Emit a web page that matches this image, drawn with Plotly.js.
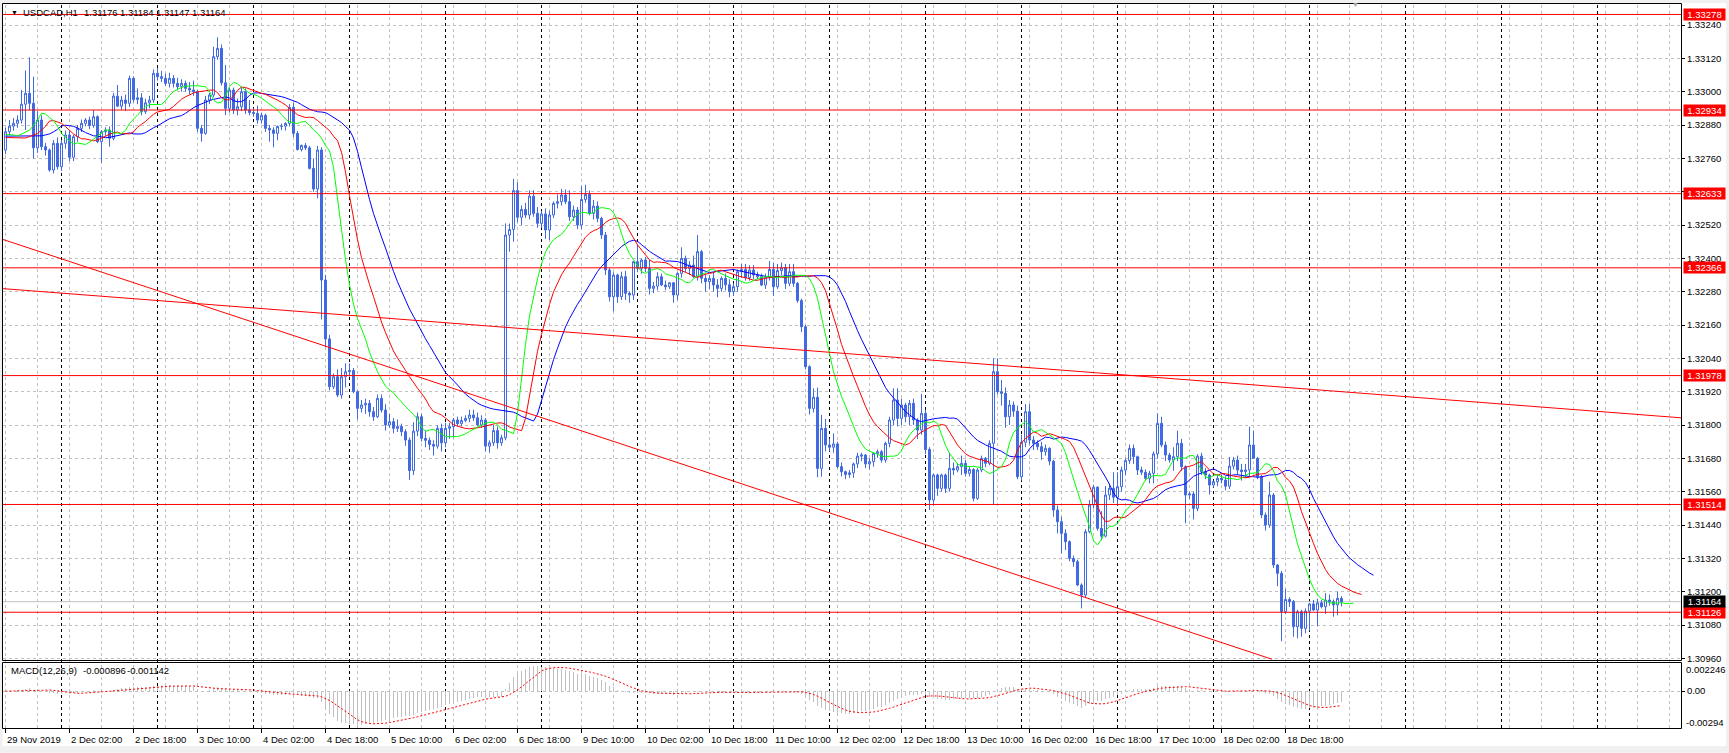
<!DOCTYPE html>
<html><head><meta charset="utf-8">
<script src="https://cdn.plot.ly/plotly-3.0.1.min.js"></script>
<style>html,body{margin:0;padding:0;background:#fff;overflow:hidden}#chart{width:1729px;height:753px}</style>
</head><body><div id="chart"></div>
<script>
// ---------- DATA ----------
const symbolName = "USDCAD,H1";
const closeP = [
1.32856,1.32876,1.32886,1.32898,1.32955,1.32994,1.32958,1.32798,1.32898,1.32802,
1.32790,1.32718,1.32814,1.32730,1.32814,1.32844,1.32764,1.32838,1.32868,1.32886,
1.32898,1.32878,1.32910,1.32820,1.32856,1.32862,1.32832,1.32984,1.32948,1.32970,
1.32958,1.33048,1.32972,1.32978,1.32928,1.32960,1.32970,1.33066,1.33054,1.33048,
1.33030,1.33048,1.33030,1.33018,1.33030,1.33012,1.33006,1.33000,1.32868,1.32850,
1.32970,1.32988,1.33126,1.33156,1.33032,1.32940,1.33006,1.32934,1.32946,1.33000,
1.32934,1.32925,1.32922,1.32898,1.32915,1.32868,1.32862,1.32850,1.32875,1.32876,
1.32886,1.32944,1.32850,1.32792,1.32806,1.32798,1.32724,1.32650,1.32790,1.32322,
1.32110,1.31938,1.31974,1.31908,1.31974,1.31992,1.31996,1.31920,1.31860,1.31872,
1.31878,1.31848,1.31830,1.31896,1.31854,1.31800,1.31812,1.31788,1.31795,1.31776,
1.31746,1.31636,1.31778,1.31830,1.31752,1.31745,1.31730,1.31724,1.31788,1.31736,
1.31788,1.31794,1.31818,1.31805,1.31816,1.31824,1.31836,1.31826,1.31800,1.31818,
1.31724,1.31736,1.31780,1.31736,1.31754,1.32484,1.32504,1.32644,1.32548,1.32576,
1.32556,1.32624,1.32562,1.32526,1.32560,1.32502,1.32556,1.32598,1.32604,1.32628,
1.32604,1.32550,1.32574,1.32520,1.32612,1.32630,1.32562,1.32588,1.32544,1.32484,
1.32358,1.32262,1.32340,1.32262,1.32334,1.32274,1.32268,1.32388,1.32364,1.32394,
1.32364,1.32292,1.32300,1.32334,1.32304,1.32298,1.32312,1.32268,1.32346,1.32400,
1.32364,1.32376,1.32334,1.32424,1.32328,1.32316,1.32328,1.32304,1.32292,1.32328,
1.32305,1.32280,1.32298,1.32352,1.32360,1.32330,1.32358,1.32340,1.32334,1.32304,
1.32332,1.32360,1.32298,1.32356,1.32366,1.32310,1.32352,1.32310,1.32248,1.32154,
1.32010,1.31860,1.31900,1.31644,1.31788,1.31728,1.31720,1.31732,1.31650,1.31632,
1.31622,1.31628,1.31660,1.31688,1.31692,1.31660,1.31668,1.31698,1.31704,1.31674,
1.31734,1.31818,1.31890,1.31824,1.31872,1.31830,1.31878,1.31818,1.31782,1.31842,
1.31712,1.31530,1.31620,1.31572,1.31620,1.31572,1.31644,1.31638,1.31650,1.31662,
1.31626,1.31640,1.31536,1.31638,1.31680,1.31662,1.31734,1.31992,1.31920,1.31914,
1.31830,1.31872,1.31850,1.31614,1.31738,1.31848,1.31746,1.31734,1.31722,1.31704,
1.31716,1.31670,1.31494,1.31452,1.31410,1.31380,1.31320,1.31308,1.31224,1.31188,
1.31416,1.31512,1.31576,1.31428,1.31400,1.31548,1.31572,1.31540,1.31578,1.31638,
1.31672,1.31716,1.31686,1.31638,1.31630,1.31608,1.31626,1.31696,1.31806,1.31728,
1.31692,1.31674,1.31686,1.31734,1.31650,1.31548,1.31552,1.31500,1.31688,1.31632,
1.31620,1.31584,1.31596,1.31608,1.31602,1.31580,1.31652,1.31674,1.31638,1.31632,
1.31638,1.31728,1.31680,1.31614,1.31476,1.31440,1.31548,1.31296,1.31266,1.31128,
1.31172,1.31164,1.31074,1.31128,1.31068,1.31130,1.31156,1.31134,1.31160,1.31146,
1.31170,1.31164,1.31152,1.31176,1.31164];
const openP = [
1.32790,1.32856,1.32876,1.32886,1.32898,1.32955,1.32994,1.32958,1.32798,1.32898,
1.32802,1.32790,1.32718,1.32814,1.32730,1.32814,1.32844,1.32764,1.32838,1.32868,
1.32886,1.32898,1.32878,1.32910,1.32820,1.32856,1.32862,1.32832,1.32984,1.32948,
1.32970,1.32958,1.33048,1.32972,1.32978,1.32928,1.32960,1.32970,1.33066,1.33054,
1.33048,1.33030,1.33048,1.33030,1.33018,1.33030,1.33012,1.33006,1.33000,1.32868,
1.32850,1.32970,1.32988,1.33126,1.33156,1.33032,1.32940,1.33006,1.32934,1.32946,
1.33000,1.32934,1.32925,1.32922,1.32898,1.32915,1.32868,1.32862,1.32850,1.32875,
1.32876,1.32886,1.32944,1.32850,1.32792,1.32806,1.32798,1.32724,1.32650,1.32790,
1.32322,1.32110,1.31938,1.31974,1.31908,1.31974,1.31992,1.31996,1.31920,1.31860,
1.31872,1.31878,1.31848,1.31830,1.31896,1.31854,1.31800,1.31812,1.31788,1.31795,
1.31776,1.31746,1.31636,1.31778,1.31830,1.31752,1.31745,1.31730,1.31724,1.31788,
1.31736,1.31788,1.31794,1.31818,1.31805,1.31816,1.31824,1.31836,1.31826,1.31800,
1.31818,1.31724,1.31736,1.31780,1.31736,1.31754,1.32484,1.32504,1.32644,1.32548,
1.32576,1.32556,1.32624,1.32562,1.32526,1.32560,1.32502,1.32556,1.32598,1.32604,
1.32628,1.32604,1.32550,1.32574,1.32520,1.32612,1.32630,1.32562,1.32588,1.32544,
1.32484,1.32358,1.32262,1.32340,1.32262,1.32334,1.32274,1.32268,1.32388,1.32364,
1.32394,1.32364,1.32292,1.32300,1.32334,1.32304,1.32298,1.32312,1.32268,1.32346,
1.32400,1.32364,1.32376,1.32334,1.32424,1.32328,1.32316,1.32328,1.32304,1.32292,
1.32328,1.32305,1.32280,1.32298,1.32352,1.32360,1.32330,1.32358,1.32340,1.32334,
1.32304,1.32332,1.32360,1.32298,1.32356,1.32366,1.32310,1.32352,1.32310,1.32248,
1.32154,1.32010,1.31860,1.31900,1.31644,1.31788,1.31728,1.31720,1.31732,1.31650,
1.31632,1.31622,1.31628,1.31660,1.31688,1.31692,1.31660,1.31668,1.31698,1.31704,
1.31674,1.31734,1.31818,1.31890,1.31824,1.31872,1.31830,1.31878,1.31818,1.31782,
1.31842,1.31712,1.31530,1.31620,1.31572,1.31620,1.31572,1.31644,1.31638,1.31650,
1.31662,1.31626,1.31640,1.31536,1.31638,1.31680,1.31662,1.31734,1.31992,1.31920,
1.31914,1.31830,1.31872,1.31850,1.31614,1.31738,1.31848,1.31746,1.31734,1.31722,
1.31704,1.31716,1.31670,1.31494,1.31452,1.31410,1.31380,1.31320,1.31308,1.31224,
1.31188,1.31416,1.31512,1.31576,1.31428,1.31400,1.31548,1.31572,1.31540,1.31578,
1.31638,1.31672,1.31716,1.31686,1.31638,1.31630,1.31608,1.31626,1.31696,1.31806,
1.31728,1.31692,1.31674,1.31686,1.31734,1.31650,1.31548,1.31552,1.31500,1.31688,
1.31632,1.31620,1.31584,1.31596,1.31608,1.31602,1.31580,1.31652,1.31674,1.31638,
1.31632,1.31638,1.31728,1.31680,1.31614,1.31476,1.31440,1.31548,1.31296,1.31266,
1.31128,1.31172,1.31164,1.31074,1.31128,1.31068,1.31130,1.31156,1.31134,1.31160,
1.31146,1.31170,1.31164,1.31152,1.31176];
const highP = [
1.32870,1.32898,1.32905,1.32915,1.33006,1.33076,1.33124,1.33054,1.32930,1.32915,
1.32815,1.32795,1.32826,1.32835,1.32826,1.32860,1.32860,1.32845,1.32880,1.32900,
1.32905,1.32910,1.32934,1.32915,1.32862,1.32872,1.32875,1.32995,1.33024,1.32985,
1.32990,1.33058,1.33055,1.33012,1.32995,1.32975,1.32985,1.33080,1.33085,1.33075,
1.33065,1.33068,1.33060,1.33050,1.33045,1.33040,1.33035,1.33040,1.33005,1.32880,
1.32985,1.32995,1.33162,1.33196,1.33170,1.33096,1.33015,1.33015,1.32975,1.33018,
1.33012,1.32970,1.32940,1.32950,1.32925,1.32920,1.32880,1.32872,1.32878,1.32885,
1.32890,1.32955,1.32960,1.32858,1.32810,1.32815,1.32805,1.32760,1.32805,1.32800,
1.32340,1.32125,1.31985,1.32000,1.32005,1.32022,1.32022,1.32005,1.31925,1.31890,
1.31895,1.31890,1.31865,1.31910,1.31910,1.31875,1.31840,1.31825,1.31820,1.31805,
1.31785,1.31755,1.31810,1.31845,1.31840,1.31780,1.31755,1.31745,1.31800,1.31805,
1.31808,1.31808,1.31825,1.31830,1.31830,1.31835,1.31855,1.31855,1.31845,1.31835,
1.31825,1.31745,1.31800,1.31795,1.31765,1.32526,1.32525,1.32686,1.32674,1.32590,
1.32600,1.32645,1.32645,1.32585,1.32570,1.32580,1.32570,1.32605,1.32630,1.32650,
1.32648,1.32645,1.32590,1.32585,1.32660,1.32665,1.32645,1.32610,1.32605,1.32550,
1.32495,1.32365,1.32350,1.32345,1.32352,1.32355,1.32280,1.32390,1.32450,1.32400,
1.32405,1.32395,1.32315,1.32350,1.32345,1.32320,1.32315,1.32315,1.32350,1.32440,
1.32410,1.32390,1.32410,1.32484,1.32430,1.32345,1.32340,1.32350,1.32325,1.32335,
1.32345,1.32325,1.32310,1.32360,1.32380,1.32380,1.32375,1.32375,1.32352,1.32345,
1.32345,1.32390,1.32385,1.32380,1.32385,1.32380,1.32380,1.32380,1.32315,1.32255,
1.32160,1.32015,1.31932,1.31935,1.31836,1.31822,1.31750,1.31770,1.31740,1.31665,
1.31636,1.31638,1.31665,1.31700,1.31700,1.31695,1.31680,1.31700,1.31712,1.31710,
1.31740,1.31830,1.31932,1.31932,1.31895,1.31880,1.31890,1.31895,1.31825,1.31912,
1.31855,1.31720,1.31625,1.31625,1.31625,1.31625,1.31700,1.31665,1.31662,1.31690,
1.31675,1.31650,1.31645,1.31645,1.31690,1.31685,1.31745,1.32040,1.32040,1.31962,
1.31935,1.31890,1.31885,1.31870,1.31765,1.31875,1.31875,1.31760,1.31745,1.31740,
1.31730,1.31720,1.31675,1.31510,1.31470,1.31425,1.31385,1.31330,1.31315,1.31230,
1.31425,1.31530,1.31585,1.31580,1.31490,1.31580,1.31590,1.31630,1.31630,1.31650,
1.31680,1.31730,1.31730,1.31690,1.31650,1.31640,1.31635,1.31705,1.31842,1.31830,
1.31740,1.31700,1.31720,1.31780,1.31750,1.31655,1.31560,1.31560,1.31695,1.31700,
1.31645,1.31625,1.31600,1.31620,1.31620,1.31615,1.31685,1.31685,1.31690,1.31660,
1.31660,1.31794,1.31780,1.31685,1.31620,1.31485,1.31596,1.31555,1.31300,1.31275,
1.31210,1.31180,1.31170,1.31135,1.31135,1.31140,1.31160,1.31170,1.31175,1.31170,
1.31195,1.31190,1.31172,1.31200,1.31184];
const lowP = [
1.32775,1.32844,1.32860,1.32870,1.32885,1.32862,1.32934,1.32760,1.32780,1.32790,
1.32770,1.32712,1.32706,1.32720,1.32715,1.32795,1.32750,1.32750,1.32820,1.32855,
1.32875,1.32865,1.32870,1.32815,1.32745,1.32842,1.32802,1.32825,1.32945,1.32935,
1.32930,1.32945,1.32962,1.32955,1.32915,1.32920,1.32940,1.32960,1.33040,1.33035,
1.33020,1.33015,1.33015,1.33005,1.33000,1.33000,1.32990,1.32985,1.32855,1.32820,
1.32845,1.32955,1.32980,1.33115,1.33022,1.32916,1.32925,1.32920,1.32915,1.32930,
1.32920,1.32915,1.32910,1.32885,1.32885,1.32855,1.32820,1.32800,1.32825,1.32862,
1.32860,1.32875,1.32836,1.32788,1.32785,1.32790,1.32720,1.32640,1.32616,1.32180,
1.32080,1.31925,1.31930,1.31900,1.31895,1.31935,1.31975,1.31915,1.31820,1.31845,
1.31840,1.31830,1.31815,1.31825,1.31845,1.31780,1.31790,1.31770,1.31775,1.31760,
1.31725,1.31602,1.31620,1.31760,1.31740,1.31720,1.31710,1.31690,1.31715,1.31705,
1.31720,1.31750,1.31755,1.31795,1.31795,1.31810,1.31810,1.31815,1.31795,1.31790,
1.31705,1.31700,1.31725,1.31715,1.31725,1.31745,1.32424,1.32460,1.32530,1.32520,
1.32545,1.32540,1.32550,1.32510,1.32510,1.32470,1.32466,1.32545,1.32580,1.32590,
1.32595,1.32535,1.32535,1.32505,1.32505,1.32600,1.32555,1.32540,1.32530,1.32470,
1.32340,1.32245,1.32210,1.32240,1.32250,1.32250,1.32240,1.32250,1.32350,1.32345,
1.32350,1.32270,1.32275,1.32285,1.32300,1.32285,1.32290,1.32240,1.32250,1.32330,
1.32350,1.32340,1.32330,1.32320,1.32310,1.32280,1.32290,1.32280,1.32260,1.32280,
1.32285,1.32260,1.32265,1.32280,1.32330,1.32320,1.32320,1.32325,1.32325,1.32300,
1.32290,1.32320,1.32265,1.32290,1.32340,1.32290,1.32300,1.32298,1.32240,1.32134,
1.32000,1.31838,1.31845,1.31612,1.31614,1.31705,1.31705,1.31700,1.31645,1.31615,
1.31605,1.31610,1.31610,1.31645,1.31670,1.31645,1.31640,1.31650,1.31682,1.31665,
1.31665,1.31720,1.31800,1.31795,1.31800,1.31810,1.31800,1.31800,1.31750,1.31765,
1.31695,1.31494,1.31510,1.31545,1.31560,1.31555,1.31560,1.31620,1.31630,1.31620,
1.31615,1.31615,1.31525,1.31530,1.31630,1.31648,1.31655,1.31512,1.31910,1.31870,
1.31790,1.31800,1.31830,1.31605,1.31600,1.31720,1.31730,1.31710,1.31710,1.31675,
1.31690,1.31655,1.31470,1.31410,1.31338,1.31350,1.31310,1.31290,1.31220,1.31140,
1.31180,1.31410,1.31500,1.31420,1.31385,1.31395,1.31530,1.31520,1.31510,1.31560,
1.31620,1.31660,1.31660,1.31620,1.31620,1.31600,1.31590,1.31590,1.31680,1.31720,
1.31670,1.31665,1.31635,1.31670,1.31635,1.31446,1.31535,1.31460,1.31490,1.31620,
1.31605,1.31550,1.31575,1.31580,1.31590,1.31565,1.31570,1.31640,1.31620,1.31600,
1.31610,1.31615,1.31680,1.31605,1.31465,1.31420,1.31430,1.31285,1.31220,1.31022,
1.31120,1.31145,1.31038,1.31032,1.31038,1.31050,1.31060,1.31130,1.31075,1.31140,
1.31120,1.31150,1.31110,1.31115,1.31147];

const timeLabels = ["29 Nov 2019","2 Dec 02:00","2 Dec 18:00","3 Dec 10:00","4 Dec 02:00","4 Dec 18:00",
  "5 Dec 10:00","6 Dec 02:00","6 Dec 18:00","9 Dec 10:00","10 Dec 02:00","10 Dec 18:00","11 Dec 10:00",
  "12 Dec 02:00","12 Dec 18:00","13 Dec 10:00","16 Dec 02:00","16 Dec 18:00","17 Dec 10:00","18 Dec 02:00","18 Dec 18:00"];
const timeLabelBars = [0,16,32,48,64,80,96,112,128,144,160,176,192,208,224,240,256,272,288,304,320];
const dayStartBars = [14,38,62,86,110,134,158,182,206,230,254,278,302,326,350,374,398];
const priceTicks = [1.3096,1.3108,1.3120,1.3132,1.3144,1.3156,1.3168,1.3180,1.3192,1.3204,
  1.3216,1.3228,1.3240,1.3252,1.3264,1.3276,1.3288,1.3300,1.3312,1.3324];
const levelLines = [1.33278,1.32934,1.32633,1.32366,1.31978,1.31514,1.31126];
const bidPrice = 1.31164;
// trend lines: [bar, price] end points
const trendSteepBars = [-0.625, 316.6], trendSteepPrices = [1.32468, 1.30957];
const trendFlatBars = [-0.625, 418.875], trendFlatPrices = [1.32291, 1.31826];
// Alligator start levels at the left edge (read)
const jawSeed = 1.32840, teethSeed = 1.32835, lipsSeed = 1.32845;
const macdName = "MACD(12,26,9)";
const macdValues = ["-0.000896", "-0.001142"];
const macdTop = 0.002246, macdBottom = -0.00294;

// ---------- INDICATORS (computed from the bars, like the terminal does) ----------
const n = closeP.length;
const bars = closeP.map((_, i) => i);
const median = highP.map((h, i) => (h + lowP[i]) / 2);
function smmaLine(period, shift, seed) {
  const xs = [], ys = [];
  for (let k = 0; k < shift; k++) { xs.push(k); ys.push(seed); }
  let v = seed;
  median.forEach((p, i) => { v = (v * (period - 1) + p) / period; xs.push(i + shift); ys.push(v); });
  return {xs, ys};
}
const jaw = smmaLine(13, 8, jawSeed), teeth = smmaLine(8, 5, teethSeed), lips = smmaLine(5, 3, lipsSeed);
function ema(src, period) { const k = 2 / (period + 1); let v = src[0]; return src.map(p => (v = v + k * (p - v))); }
const e12 = ema(closeP, 12), e26 = ema(closeP, 26);
const macd = e12.map((v, i) => v - e26[i]);
const signal = macd.map((_, i) => { const s = Math.max(0, i - 8); const w = macd.slice(s, i + 1); return w.reduce((a, b) => a + b, 0) / w.length; });

// ---------- LAYOUT ----------
const W = 1729, H = 753;
const px = v => v / W, py = v => 1 - v / H;
const FONT = 'Tahoma, "Liberation Sans", Arial, sans-serif';
const candleColor = '#4169E1';
const fmt5 = v => v.toFixed(5);

const traces = [
  {type: 'candlestick', x: bars, open: openP, high: highP, low: lowP, close: closeP, xaxis: 'x', yaxis: 'y',
   increasing: {line: {color: candleColor, width: 1}, fillcolor: '#FFFFFF'},
   decreasing: {line: {color: candleColor, width: 1}, fillcolor: candleColor},
   whiskerwidth: 0, hoverinfo: 'skip', showlegend: false},
  {type: 'scatter', mode: 'lines', x: jaw.xs, y: jaw.ys, line: {color: '#0000FF', width: 1}, hoverinfo: 'skip', xaxis: 'x', yaxis: 'y'},
  {type: 'scatter', mode: 'lines', x: teeth.xs, y: teeth.ys, line: {color: '#FF0000', width: 1}, hoverinfo: 'skip', xaxis: 'x', yaxis: 'y'},
  {type: 'scatter', mode: 'lines', x: lips.xs, y: lips.ys, line: {color: '#00FF00', width: 1}, hoverinfo: 'skip', xaxis: 'x', yaxis: 'y'},
  {type: 'bar', x: bars, y: macd, width: 0.25, marker: {color: '#C0C0C0', line: {width: 0}}, hoverinfo: 'skip', xaxis: 'x', yaxis: 'y2'},
  {type: 'scatter', mode: 'lines', x: bars, y: signal, line: {color: '#FF0000', width: 1, dash: '2px,2px'}, hoverinfo: 'skip', xaxis: 'x', yaxis: 'y2'}
];

const shapes = [];
// grey window background bands
shapes.push({type: 'rect', xref: 'paper', yref: 'paper', x0: 0, x1: 1, y0: py(3), y1: 1, fillcolor: '#F0F0F0', line: {width: 0}, layer: 'below'});
shapes.push({type: 'rect', xref: 'paper', yref: 'paper', x0: 0, x1: px(2.5), y0: 0, y1: 1, fillcolor: '#F0F0F0', line: {width: 0}, layer: 'below'});
shapes.push({type: 'rect', xref: 'paper', yref: 'paper', x0: px(1726), x1: 1, y0: 0, y1: 1, fillcolor: '#F0F0F0', line: {width: 0}, layer: 'below'});
shapes.push({type: 'rect', xref: 'paper', yref: 'paper', x0: 0, x1: 1, y0: 0, y1: py(746), fillcolor: '#F0F0F0', line: {width: 0}, layer: 'below'});
// vertical grid every 8 bars
for (let b = 0; b <= 418; b += 8) {
  shapes.push({type: 'line', xref: 'x', yref: 'paper', x0: b, x1: b, y0: py(728), y1: py(4),
    line: {color: '#C0C0C0', width: 1, dash: '3px,3px'}, layer: 'below'});
}
// day separators
dayStartBars.forEach(b => shapes.push({type: 'line', xref: 'x', yref: 'paper', x0: b, x1: b, y0: py(728), y1: py(4),
  line: {color: '#000000', width: 1, dash: '3px,3px'}, layer: 'below'}));
// bid line
shapes.push({type: 'line', xref: 'paper', yref: 'y', x0: px(3), x1: px(1681), y0: bidPrice, y1: bidPrice, line: {color: '#C0C0C0', width: 1}, layer: 'below'});
// horizontal levels
levelLines.forEach(v => shapes.push({type: 'line', xref: 'paper', yref: 'y', x0: px(3), x1: px(1681), y0: v, y1: v, line: {color: '#FF0000', width: 1}, layer: 'above'}));
// trend lines
shapes.push({type: 'line', xref: 'x', yref: 'y', x0: trendSteepBars[0], x1: trendSteepBars[1], y0: trendSteepPrices[0], y1: trendSteepPrices[1], line: {color: '#FF0000', width: 1}, layer: 'above'});
shapes.push({type: 'line', xref: 'x', yref: 'y', x0: trendFlatBars[0], x1: trendFlatBars[1], y0: trendFlatPrices[0], y1: trendFlatPrices[1], line: {color: '#FF0000', width: 1}, layer: 'above'});
// frames
shapes.push({type: 'rect', xref: 'paper', yref: 'paper', x0: px(2.5), x1: px(1681.5), y0: py(660.5), y1: py(3.5), line: {color: '#000', width: 1}, layer: 'above'});
shapes.push({type: 'rect', xref: 'paper', yref: 'paper', x0: px(2.5), x1: px(1681.5), y0: py(728.5), y1: py(662.5), line: {color: '#000', width: 1}, layer: 'above'});

const annotations = [];
const txt = (x, y, text, size, color, extra) => Object.assign({xref: 'paper', yref: 'paper', x: px(x), y: py(y), text: text,
  showarrow: false, xanchor: 'left', yanchor: 'middle', font: {family: FONT, size: size, color: color}}, extra || {});
timeLabels.forEach((t, k) => annotations.push({xref: 'x', yref: 'paper', x: timeLabelBars[k], y: py(739.5), text: t,
  showarrow: false, xanchor: 'left', yanchor: 'middle', xshift: -1, font: {family: FONT, size: 9.5, color: '#000'}}));
levelLines.forEach(v => annotations.push({xref: 'paper', yref: 'y', x: px(1682.5), y: v, text: fmt5(v), showarrow: false,
  xanchor: 'left', yanchor: 'middle', bgcolor: '#FF0000', width: 41, height: 11, borderpad: 0, align: 'center',
  font: {family: FONT, size: 9.5, color: '#FFFFFF'}}));
annotations.push({xref: 'paper', yref: 'y', x: px(1682.5), y: bidPrice, text: fmt5(bidPrice), showarrow: false,
  xanchor: 'left', yanchor: 'middle', bgcolor: '#000000', width: 41, height: 11, borderpad: 0, align: 'center',
  font: {family: FONT, size: 9.5, color: '#FFFFFF'}});
// title: symbol + OHLC of the last bar, each at its own slot
annotations.push(txt(9, 12.5, '▼', 7, '#000'));
annotations.push(txt(20.5, 12.5, symbolName, 9.5, '#000'));
const titleSlots = [81.7, 118.3, 154.0, 190.0];
[openP[n-1], highP[n-1], lowP[n-1], closeP[n-1]].forEach((v, k) => annotations.push(txt(titleSlots[k], 12.5, fmt5(v), 9.5, '#000')));
// MACD label
annotations.push(txt(8.5, 670, macdName, 9.5, '#000'));
annotations.push(txt(80.5, 670, macdValues[0], 9.5, '#000'));
annotations.push(txt(124.5, 670, macdValues[1], 9.5, '#000'));
annotations.push(txt(1684, 669, String(macdTop), 9.5, '#000'));
annotations.push(txt(1684, 722.5, String(macdBottom), 9.5, '#000'));
// chart shift marker
annotations.push({xref: 'x', yref: 'paper', x: n + 2.5, y: py(5), text: '▼', showarrow: false, xanchor: 'center', yanchor: 'middle',
  font: {family: FONT, size: 7, color: '#A0A0A0'}});

const layout = {
  width: W, height: H, margin: {l: 0, r: 0, t: 0, b: 0, pad: 0},
  paper_bgcolor: '#FFFFFF', plot_bgcolor: '#FFFFFF', showlegend: false,
  font: {family: FONT, size: 9.5, color: '#000'}, boxgap: 0.5, boxgroupgap: 0,
  xaxis: {domain: [px(3), px(1681)], range: [-0.625, 418.875], anchor: 'y2', type: 'linear',
    tickmode: 'array', tickvals: timeLabelBars, ticks: 'outside', ticklen: 4, tickcolor: '#000', tickwidth: 1,
    showticklabels: false, showgrid: false, zeroline: false, showline: false, rangeslider: {visible: false}, fixedrange: true},
  yaxis: {domain: [py(660), py(4)], range: [1.309541, 1.333157], side: 'right', anchor: 'x',
    tickmode: 'array', tickvals: priceTicks, ticktext: priceTicks.map(fmt5), ticks: 'outside', ticklen: 3, tickcolor: '#000',
    showgrid: true, gridcolor: '#C0C0C0', griddash: '3px,3px', gridwidth: 1, zeroline: false, showline: false,
    tickfont: {family: FONT, size: 9.5, color: '#000'}, fixedrange: true},
  yaxis2: {domain: [py(728), py(663)], range: [macdBottom, macdTop], side: 'right', anchor: 'x',
    tickmode: 'array', tickvals: [0], ticktext: ['0.00'], ticks: 'outside', ticklen: 3, tickcolor: '#000',
    showgrid: true, gridcolor: '#C0C0C0', griddash: '3px,3px', zeroline: false, showline: false,
    tickfont: {family: FONT, size: 9.5, color: '#000'}, fixedrange: true},
  bargap: 0, shapes: shapes, annotations: annotations
};
Plotly.newPlot('chart', traces, layout, {displayModeBar: false, staticPlot: true});
</script></body></html>
